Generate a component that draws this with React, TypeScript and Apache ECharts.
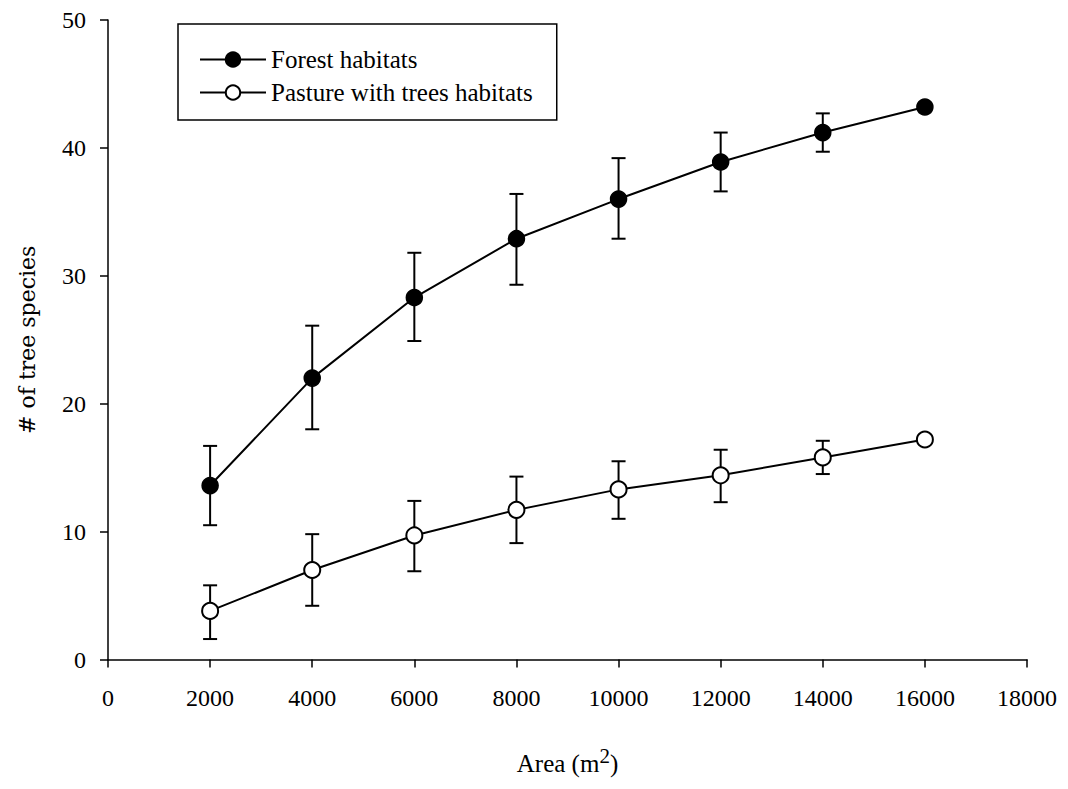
import React, { useEffect, useRef } from "react";
import * as echarts from "echarts";

const areas = [2000, 4000, 6000, 8000, 10000, 12000, 14000, 16000];
const forestMean = [13.6, 22.0, 28.3, 32.9, 36.0, 38.9, 41.2, 43.2];
const forestLow = [10.5, 18.0, 24.9, 29.3, 32.9, 36.6, 39.7, null];
const forestHigh = [16.7, 26.1, 31.8, 36.4, 39.2, 41.2, 42.7, null];
const pastureMean = [3.8, 7.0, 9.7, 11.7, 13.3, 14.4, 15.8, 17.2];
const pastureLow = [1.6, 4.2, 6.9, 9.1, 11.0, 12.3, 14.5, null];
const pastureHigh = [5.8, 9.8, 12.4, 14.3, 15.5, 16.4, 17.1, null];

const FONT = "'Liberation Serif', 'Times New Roman', serif";
const WIDE = "'DejaVu Serif', serif";

function errData(low: (number | null)[], high: (number | null)[]) {
  const out: number[][] = [];
  areas.forEach((a, i) => {
    if (low[i] != null && high[i] != null) out.push([a, low[i] as number, high[i] as number]);
  });
  return out;
}

function errRender(params: any, api: any) {
  const x = api.value(0);
  const lo = api.coord([x, api.value(1)]);
  const hi = api.coord([x, api.value(2)]);
  const hw = 7;
  const st = { stroke: "#000", lineWidth: 2 };
  return {
    type: "group",
    children: [
      { type: "line", shape: { x1: lo[0], y1: lo[1], x2: hi[0], y2: hi[1] }, style: st },
      { type: "line", shape: { x1: lo[0] - hw, y1: lo[1], x2: lo[0] + hw, y2: lo[1] }, style: st },
      { type: "line", shape: { x1: hi[0] - hw, y1: hi[1], x2: hi[0] + hw, y2: hi[1] }, style: st },
    ],
  };
}

export default function App() {
  const ref = useRef<HTMLDivElement>(null);
  useEffect(() => {
    if (!ref.current) return;
    const chart = echarts.init(ref.current, null, { renderer: "svg" });
    chart.setOption({
      animation: false,
      backgroundColor: "#fff",
      textStyle: { fontFamily: FONT, color: "#000" },
      grid: { left: 96, right: 28, top: 12, bottom: 112 },
      legend: {
        data: ["Forest habitats", "Pasture with trees habitats"],
        orient: "vertical",
        left: 170,
        top: 16,
        padding: [23, 24, 15, 21],
        itemGap: 8,
        itemWidth: 66,
        itemHeight: 18,
        borderColor: "#000",
        borderWidth: 1.5,
        borderRadius: 0,
        textStyle: { fontFamily: FONT, fontSize: 25, color: "#000" },
      },
      xAxis: {
        type: "value",
        min: 0,
        max: 18000,
        interval: 2000,
        name: "Area (m{sup|2})",
        nameLocation: "middle",
        nameGap: 86,
        nameTextStyle: {
          fontFamily: FONT,
          fontSize: 25,
          color: "#000",
          rich: { sup: { fontFamily: FONT, fontSize: 21, verticalAlign: "bottom", padding: [0, 0, 15, 0], color: "#000" } },
        },
        splitLine: { show: false },
        axisLine: { lineStyle: { color: "#000", width: 1.5 } },
        axisTick: { show: true, length: 8, lineStyle: { color: "#000", width: 1.5 } },
        axisLabel: { fontFamily: FONT, fontSize: 24, color: "#000", margin: 26, formatter: (v: number) => String(v) },
      },
      yAxis: {
        type: "value",
        min: 0,
        max: 50,
        interval: 10,
        name: "# of tree species",
        nameLocation: "middle",
        nameGap: 70,
        nameTextStyle: { fontFamily: WIDE, fontSize: 22, color: "#000" },
        splitLine: { show: false },
        axisLine: { show: true, lineStyle: { color: "#000", width: 1.5 } },
        axisTick: { show: true, length: 8, lineStyle: { color: "#000", width: 1.5 } },
        axisLabel: { fontFamily: FONT, fontSize: 24, color: "#000", margin: 22 },
      },
      series: [
        {
          name: "forest-err",
          type: "custom",
          renderItem: errRender,
          data: errData(forestLow, forestHigh),
          encode: { x: 0, y: [1, 2] },
          z: 1,
          silent: true,
        },
        {
          name: "pasture-err",
          type: "custom",
          renderItem: errRender,
          data: errData(pastureLow, pastureHigh),
          encode: { x: 0, y: [1, 2] },
          z: 1,
          silent: true,
        },
        {
          name: "Forest habitats",
          type: "line",
          data: areas.map((a, i) => [a, forestMean[i]]),
          symbol: "circle",
          symbolSize: 16,
          lineStyle: { color: "#000", width: 2 },
          itemStyle: { color: "#000", borderColor: "#000", borderWidth: 1.5 },
          z: 3,
        },
        {
          name: "Pasture with trees habitats",
          type: "line",
          data: areas.map((a, i) => [a, pastureMean[i]]),
          symbol: "circle",
          symbolSize: 16,
          lineStyle: { color: "#000", width: 2 },
          itemStyle: { color: "#fff", borderColor: "#000", borderWidth: 2 },
          z: 3,
        },
      ],
    });
    return () => chart.dispose();
  }, []);
  return <div ref={ref} style={{ width: 1052, height: 773 }} />;
}
